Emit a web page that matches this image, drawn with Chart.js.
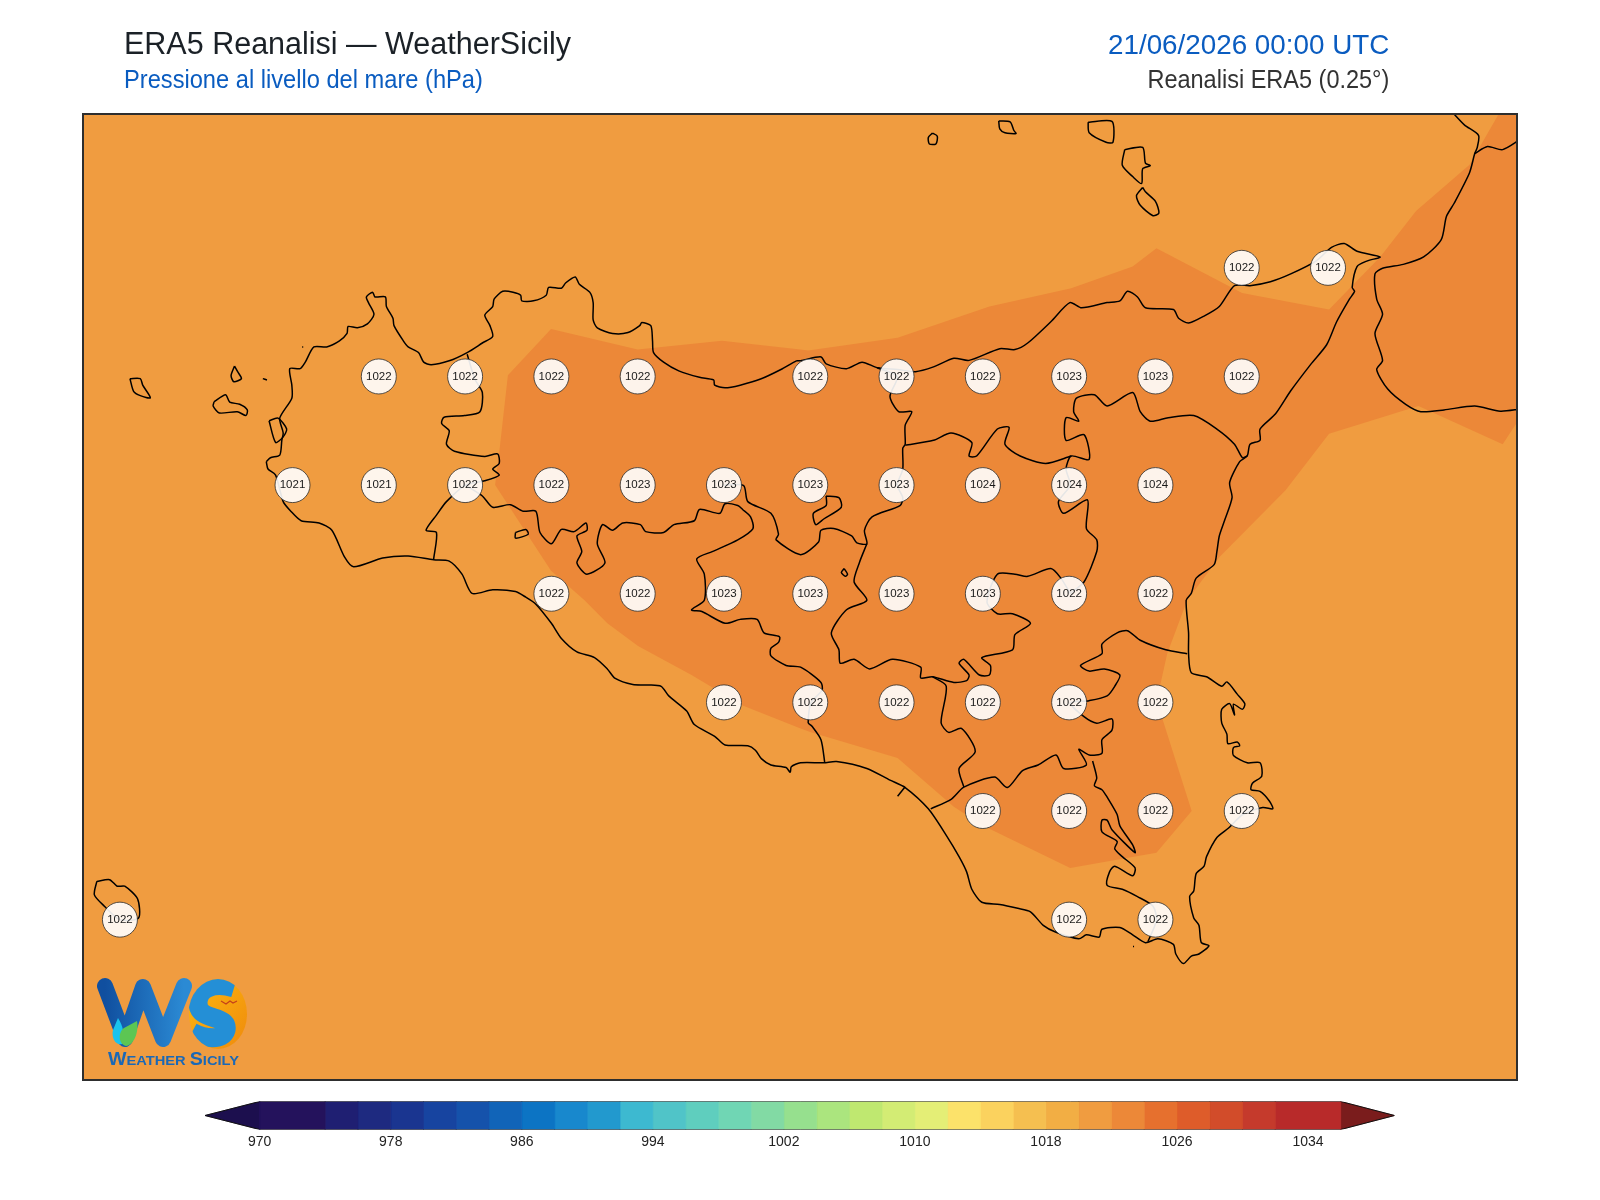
<!DOCTYPE html>
<html>
<head>
<meta charset="utf-8">
<title>ERA5 Reanalisi - WeatherSicily</title>
<script src="https://cdn.jsdelivr.net/npm/chart.js@4/dist/chart.umd.min.js"></script>
<style>
  html, body { margin: 0; padding: 0; background: #fff; }
  body { position: relative; width: 1600px; height: 1200px; overflow: hidden; font-family: "Liberation Sans", Arial, sans-serif; }
  canvas { position: absolute; left: 0; }
  #map-chart { top: 0; }
  #bar-chart { top: 1090px; }
  .label { position: absolute; white-space: nowrap; line-height: 1; }
  .left { transform-origin: left center; }
  .right { transform-origin: right center; }
  #logo { position: absolute; left: 0; top: 0; pointer-events: none; }
</style>
</head>
<body>
<canvas id="map-chart" width="1600" height="1200"></canvas>
<canvas id="bar-chart" width="1600" height="80"></canvas>

<div class="label left" style="left:124px; top:28px; font-size:31px; color:#1b2127; transform:scaleX(.984);">ERA5 Reanalisi — WeatherSicily</div>
<div class="label left" style="left:124px; top:67px; font-size:25px; color:#0a5cc0; transform:scaleX(.946);">Pressione al livello del mare (hPa)</div>
<div class="label right" style="right:211px; top:31px; font-size:28px; color:#0a5cc0; transform:scaleX(.993);">21/06/2026 00:00 UTC</div>
<div class="label right" style="right:211px; top:67px; font-size:25px; color:#333; transform:scaleX(.94);">Reanalisi ERA5 (0.25°)</div>

<!-- WeatherSicily logo -->
<svg id="logo" width="1600" height="1200" xmlns="http://www.w3.org/2000/svg">
  <defs>
    <linearGradient id="wBlue" x1="0" y1="0" x2="1" y2="0">
      <stop offset="0" stop-color="#104f9f"/>
      <stop offset="1" stop-color="#2b8ad4"/>
    </linearGradient>
    <linearGradient id="sun" x1="0" y1="0" x2="1" y2="1">
      <stop offset="0" stop-color="#fdb90f"/>
      <stop offset="1" stop-color="#ef8a0c"/>
    </linearGradient>
    <clipPath id="disc"><ellipse cx="218" cy="1014" rx="29.5" ry="35"/></clipPath>
  </defs>
  <polyline points="105,986 125,1039 143,987 163,1039 184,986" fill="none" stroke="url(#wBlue)" stroke-width="16" stroke-linejoin="round" stroke-linecap="round"/>
  <path d="M118 1018 C123 1026 125 1034 122 1044 C116 1046 111 1038 113 1030 Z" fill="#19c3ee"/>
  <path d="M137 1021 C139 1032 134 1045 126 1046 C118 1044 118 1032 124 1028 Z" fill="#5cc653"/>
  <ellipse cx="218" cy="1014" rx="29" ry="35" fill="url(#sun)"/>
  <g clip-path="url(#disc)">
    <path d="M234 988 C214 982 198 988 198 1003 C198 1022 229 1014 226 1030 C223 1041 205 1039 192 1032" fill="none" stroke="#248fd6" stroke-width="19"/>
  </g>
  <path d="M221 1001 l5 3 l4 -3 l3 2 l4 -2" fill="none" stroke="#c4401a" stroke-width="1.2"/>
  <text x="108" y="1065" font-family="Liberation Sans" font-weight="bold" font-size="13.5" fill="#1b68b6" textLength="131" lengthAdjust="spacingAndGlyphs"><tspan font-size="18">W</tspan>EATHER <tspan font-size="18">S</tspan>ICILY</text>
</svg>

<script>
// grid values (0.25 deg ERA5 points)
const gridLon = [15.25, 15.5,
  12.75, 13.0, 13.25, 13.5, 14.0, 14.25, 14.5, 14.75, 15.0, 15.25,
  12.5, 12.75, 13.0, 13.25, 13.5, 13.75, 14.0, 14.25, 14.5, 14.75, 15.0,
  13.25, 13.5, 13.75, 14.0, 14.25, 14.5, 14.75, 15.0,
  13.75, 14.0, 14.25, 14.5, 14.75, 15.0,
  14.5, 14.75, 15.0, 15.25,
  12.0, 14.75, 15.0];
const gridLat = [38.25, 38.25,
  38, 38, 38, 38, 38, 38, 38, 38, 38, 38,
  37.75, 37.75, 37.75, 37.75, 37.75, 37.75, 37.75, 37.75, 37.75, 37.75, 37.75,
  37.5, 37.5, 37.5, 37.5, 37.5, 37.5, 37.5, 37.5,
  37.25, 37.25, 37.25, 37.25, 37.25, 37.25,
  37, 37, 37, 37,
  36.75, 36.75, 36.75];
const gridHpa = [1022, 1022,
  1022, 1022, 1022, 1022, 1022, 1022, 1022, 1023, 1023, 1022,
  1021, 1021, 1022, 1022, 1023, 1023, 1023, 1023, 1024, 1024, 1024,
  1022, 1022, 1023, 1023, 1023, 1023, 1022, 1022,
  1022, 1022, 1022, 1022, 1022, 1022,
  1022, 1022, 1022, 1022,
  1022, 1022, 1022];

// colour bar
const barEdges = [970, 974, 976, 978, 980, 982, 984, 986, 988, 990, 992, 994, 996, 998, 1000, 1002, 1004, 1006, 1008, 1010, 1012, 1014, 1016, 1018, 1020, 1022, 1024, 1026, 1028, 1030, 1032, 1036];
const barColors = ['#24125c', '#1f1f72', '#1e2a80', '#1a3590', '#1744a0', '#1552ab', '#1164b8', '#0c74c4', '#1888cd', '#2299ce', '#3db9d0', '#50c4c8', '#5fcebe', '#70d6b4', '#82daa4', '#96e08e', '#abe57e', '#bfe870', '#d3ec74', '#e4ee76', '#fce26a', '#fbd25e', '#f5bf50', '#f2ae44', '#f09c40', '#ec8838', '#e6702e', '#de5c2a', '#d24c2a', '#c53a2c', '#b82a2a'];
const barTicks = [970, 978, 986, 994, 1002, 1010, 1018, 1026, 1034];
const underColor = '#1c0f4e';
const overColor = '#7a1c1c';

// pressure field: 1020-1022 everywhere, 1022-1024 inside this shape
const field1022 = [[13.249,38.109],[13.500,38.062],[13.744,38.082],[13.972,38.062],[13.994,38.060],[14.253,38.089],[14.519,38.161],[14.756,38.203],[14.934,38.253],[15.003,38.295],[15.251,38.192],[15.503,38.154],[15.651,38.275],[15.755,38.381],[15.910,38.487],[16.006,38.620],[16.100,38.620],[16.100,37.900],[16.050,37.897],[16.006,37.844],[15.762,37.932],[15.503,37.868],[15.377,37.738],[15.185,37.584],[15.092,37.485],[15.034,37.362],[15.012,37.283],[15.022,37.208],[15.105,37.000],[15.003,36.904],[14.753,36.869],[14.501,36.966],[14.416,37.010],[14.253,37.122],[14.002,37.181],[13.972,37.190],[13.804,37.243],[13.656,37.313],[13.501,37.380],[13.412,37.432],[13.346,37.485],[13.249,37.553],[13.087,37.750],[13.099,37.826],[13.124,38.003]];

// coast
const sicilyCoast = [[12.424,37.804],[12.436,37.813],[12.463,37.819],[12.469,37.853],[12.473,37.870],[12.463,37.904],[12.498,37.950],[12.498,37.980],[12.492,38.018],[12.522,38.018],[12.537,38.033],[12.562,38.068],[12.599,38.068],[12.636,38.082],[12.658,38.099],[12.661,38.115],[12.688,38.112],[12.717,38.121],[12.736,38.143],[12.720,38.170],[12.714,38.183],[12.732,38.194],[12.739,38.183],[12.769,38.183],[12.772,38.161],[12.791,38.134],[12.794,38.117],[12.821,38.082],[12.835,38.068],[12.865,38.055],[12.880,38.033],[12.902,38.027],[12.954,38.036],[13.006,38.055],[13.050,38.077],[13.080,38.092],[13.072,38.117],[13.057,38.141],[13.080,38.161],[13.084,38.178],[13.109,38.196],[13.139,38.194],[13.161,38.187],[13.164,38.174],[13.198,38.174],[13.235,38.187],[13.242,38.205],[13.279,38.203],[13.291,38.215],[13.319,38.229],[13.331,38.212],[13.361,38.194],[13.371,38.170],[13.371,38.130],[13.383,38.112],[13.427,38.099],[13.472,38.101],[13.506,38.117],[13.512,38.124],[13.538,38.117],[13.543,38.082],[13.546,38.055],[13.575,38.033],[13.619,38.013],[13.679,37.998],[13.720,37.992],[13.723,37.980],[13.753,37.974],[13.797,37.980],[13.856,37.994],[13.915,38.016],[13.960,38.036],[13.972,38.036],[14.031,38.045],[14.046,38.029],[14.105,38.018],[14.150,38.033],[14.194,38.020],[14.253,38.016],[14.305,38.011],[14.357,38.022],[14.416,38.042],[14.460,38.037],[14.549,38.064],[14.593,38.062],[14.630,38.077],[14.697,38.126],[14.752,38.170],[14.786,38.158],[14.860,38.170],[14.897,38.174],[14.919,38.196],[14.948,38.183],[14.971,38.158],[15.052,38.154],[15.067,38.134],[15.096,38.123],[15.141,38.139],[15.185,38.161],[15.229,38.209],[15.274,38.209],[15.333,38.218],[15.392,38.236],[15.466,38.266],[15.510,38.297],[15.547,38.306],[15.584,38.288],[15.651,38.275],[15.614,38.266],[15.584,38.253],[15.570,38.205],[15.577,38.196],[15.562,38.178],[15.525,38.126],[15.496,38.073],[15.451,38.029],[15.392,37.967],[15.348,37.914],[15.303,37.879],[15.303,37.853],[15.274,37.844],[15.266,37.817],[15.244,37.804],[15.215,37.756],[15.222,37.721],[15.200,37.668],[15.185,37.633],[15.178,37.597],[15.170,37.567],[15.118,37.536],[15.104,37.501],[15.089,37.485],[15.096,37.410],[15.096,37.362],[15.104,37.318],[15.148,37.309],[15.192,37.287],[15.207,37.297],[15.237,37.269],[15.259,37.247],[15.252,37.234],[15.226,37.246],[15.229,37.221],[15.215,37.247],[15.192,37.234],[15.192,37.203],[15.207,37.177],[15.210,37.155],[15.237,37.159],[15.244,37.150],[15.226,37.146],[15.226,37.128],[15.266,37.111],[15.303,37.111],[15.308,37.080],[15.281,37.064],[15.277,37.049],[15.303,37.045],[15.330,37.023],[15.340,37.005],[15.311,37.008],[15.253,36.992],[15.212,36.961],[15.178,36.939],[15.148,36.895],[15.141,36.873],[15.118,36.856],[15.111,36.816],[15.099,36.803],[15.111,36.754],[15.126,36.737],[15.133,36.697],[15.155,36.690],[15.126,36.671],[15.104,36.666],[15.081,36.649],[15.059,36.671],[15.052,36.693],[15.007,36.706],[14.971,36.697],[14.934,36.715],[14.897,36.732],[14.845,36.728],[14.837,36.710],[14.800,36.715],[14.778,36.706],[14.712,36.721],[14.675,36.737],[14.638,36.768],[14.601,36.776],[14.549,36.785],[14.497,36.790],[14.468,36.820],[14.453,36.860],[14.431,36.895],[14.394,36.944],[14.342,37.005],[14.275,37.054],[14.231,37.071],[14.164,37.098],[14.076,37.114],[14.039,37.111],[13.972,37.111],[13.945,37.102],[13.942,37.089],[13.930,37.100],[13.886,37.106],[13.859,37.120],[13.841,37.140],[13.819,37.150],[13.753,37.152],[13.723,37.172],[13.664,37.199],[13.642,37.230],[13.590,37.265],[13.568,37.287],[13.531,37.290],[13.486,37.291],[13.435,37.305],[13.412,37.327],[13.375,37.353],[13.324,37.366],[13.279,37.397],[13.250,37.432],[13.205,37.476],[13.176,37.492],[13.146,37.505],[13.080,37.509],[13.020,37.501],[12.991,37.545],[12.954,37.575],[12.909,37.578],[12.835,37.587],[12.761,37.582],[12.677,37.562],[12.651,37.584],[12.614,37.646],[12.577,37.663],[12.525,37.668],[12.495,37.690],[12.473,37.712],[12.451,37.773],[12.429,37.787],[12.424,37.804]];
const marettimo = [[12.029,37.995],[12.059,37.995],[12.066,37.980],[12.088,37.951],[12.059,37.956],[12.040,37.965],[12.029,37.995]];
const levanzo = [[12.332,38.024],[12.341,38.011],[12.352,37.995],[12.330,37.988],[12.322,38.002],[12.332,38.024]];
const favignana = [[12.273,37.942],[12.306,37.958],[12.318,37.941],[12.347,37.936],[12.369,37.923],[12.365,37.910],[12.340,37.919],[12.288,37.916],[12.270,37.932],[12.273,37.942]];
const formica = [[12.414,37.995],[12.426,37.992]];
const isolaLunga = [[12.432,37.898],[12.458,37.904],[12.483,37.879],[12.473,37.861],[12.451,37.848],[12.432,37.898]];
const islet1 = [[12.528,38.068],[12.531,38.068]];
const islet2 = [[14.935,36.688],[14.938,36.688]];
const alicudi = [[14.354,38.560],[14.368,38.553],[14.364,38.535],[14.345,38.535],[14.342,38.550],[14.354,38.560]];
const filicudi = [[14.546,38.588],[14.579,38.586],[14.590,38.566],[14.596,38.559],[14.564,38.561],[14.549,38.570],[14.546,38.588]];
const salina = [[14.805,38.585],[14.874,38.587],[14.877,38.539],[14.857,38.539],[14.808,38.561],[14.805,38.585]];
const lipari = [[14.911,38.522],[14.963,38.527],[14.971,38.491],[14.985,38.485],[14.963,38.478],[14.960,38.444],[14.934,38.460],[14.904,38.486],[14.911,38.522]];
const vulcano = [[14.963,38.435],[14.971,38.425],[15.000,38.403],[15.010,38.376],[14.993,38.370],[14.956,38.394],[14.945,38.416],[14.963,38.435]];
const pantelleria = [[11.933,36.838],[11.970,36.842],[11.992,36.827],[12.014,36.827],[12.051,36.798],[12.054,36.754],[12.000,36.750],[11.955,36.781],[11.926,36.807],[11.933,36.838]];
const calabriaCoast = [[15.858,38.610],[15.895,38.579],[15.936,38.555],[15.932,38.526],[15.925,38.513],[15.910,38.469],[15.865,38.398],[15.843,38.368],[15.828,38.315],[15.777,38.275],[15.718,38.258],[15.658,38.249],[15.636,38.236],[15.641,38.178],[15.658,38.143],[15.636,38.099],[15.658,38.037],[15.641,38.016],[15.673,37.971],[15.725,37.936],[15.769,37.919],[15.836,37.923],[15.925,37.932],[15.999,37.920],[16.058,37.925]];
const calabriaBorder = [[15.925,38.513],[15.962,38.529],[16.006,38.522],[16.058,38.546]];

// province borders
const borderTrapani = [[13.006,38.051],[13.028,37.994],[13.050,37.963],[13.043,37.919],[12.998,37.910],[12.939,37.906],[12.932,37.892],[12.954,37.875],[12.946,37.844],[12.969,37.828],[13.057,37.816],[13.094,37.822],[13.099,37.800],[13.080,37.787],[13.099,37.773],[13.057,37.760],[13.001,37.750],[12.946,37.712],[12.917,37.681],[12.887,37.646],[12.917,37.641],[12.909,37.580]];
const borderAgrigento = [[13.001,37.750],[13.050,37.725],[13.080,37.699],[13.131,37.705],[13.168,37.690],[13.205,37.690],[13.217,37.641],[13.250,37.615],[13.279,37.648],[13.316,37.643],[13.350,37.663],[13.353,37.646],[13.324,37.633],[13.338,37.597],[13.324,37.571],[13.353,37.545],[13.405,37.571],[13.383,37.615],[13.398,37.659],[13.427,37.646],[13.457,37.663],[13.508,37.659],[13.523,37.643],[13.575,37.641],[13.605,37.659],[13.664,37.668],[13.679,37.694],[13.738,37.685],[13.753,37.707],[13.790,37.703],[13.804,37.694],[13.827,37.677],[13.834,37.650],[13.790,37.624],[13.716,37.597],[13.671,37.580],[13.693,37.545],[13.693,37.485],[13.656,37.463],[13.686,37.459],[13.753,37.432],[13.797,37.441],[13.846,37.441],[13.866,37.410],[13.911,37.401],[13.908,37.388],[13.886,37.375],[13.886,37.357],[13.930,37.335],[13.972,37.331],[14.031,37.296],[14.034,37.278],[14.002,37.249],[13.994,37.203],[14.005,37.195],[14.031,37.164],[14.042,37.111]];
const borderPalermo = [[13.751,37.750],[13.807,37.749],[13.819,37.712],[13.886,37.685],[13.908,37.637],[13.901,37.624],[13.972,37.590],[14.024,37.619],[14.031,37.646],[14.068,37.650],[14.120,37.633],[14.135,37.617],[14.164,37.615],[14.157,37.646],[14.179,37.677],[14.260,37.703],[14.268,37.721],[14.252,37.750],[14.268,37.787],[14.268,37.835],[14.275,37.844],[14.275,37.888],[14.294,37.919],[14.256,37.919],[14.231,37.954],[14.252,38.000],[14.194,38.020]];
const borderEnnaSouth = [[14.164,37.615],[14.142,37.571],[14.127,37.527],[14.164,37.485],[14.105,37.463],[14.061,37.410],[14.083,37.371],[14.087,37.340],[14.127,37.349],[14.172,37.327],[14.238,37.349],[14.320,37.331],[14.320,37.306],[14.354,37.309],[14.416,37.296],[14.453,37.300],[14.460,37.313],[14.431,37.340],[14.445,37.349],[14.490,37.313],[14.519,37.313],[14.522,37.335],[14.497,37.353],[14.586,37.371],[14.593,37.406],[14.638,37.432],[14.586,37.454],[14.542,37.454],[14.512,37.481],[14.542,37.545],[14.593,37.545],[14.630,37.540],[14.697,37.558],[14.726,37.536],[14.753,37.501]];
const borderCatania = [[14.753,37.501],[14.793,37.527],[14.830,37.597],[14.830,37.624],[14.800,37.650],[14.803,37.716],[14.734,37.685],[14.719,37.712],[14.753,37.750],[14.741,37.787],[14.756,37.817],[14.808,37.809],[14.793,37.866],[14.741,37.853],[14.741,37.905],[14.778,37.897],[14.763,37.919],[14.771,37.950],[14.823,37.958],[14.860,37.932],[14.934,37.963],[14.956,37.919],[14.985,37.897],[15.037,37.905],[15.111,37.910],[15.178,37.879],[15.229,37.844],[15.252,37.813],[15.266,37.817]];
const borderEnnaNorth = [[14.756,37.817],[14.682,37.800],[14.608,37.817],[14.564,37.844],[14.576,37.883],[14.542,37.879],[14.482,37.817],[14.460,37.817],[14.468,37.848],[14.408,37.870],[14.357,37.853],[14.275,37.842]];
const borderRagusaNorth = [[15.092,37.362],[15.030,37.371],[14.956,37.393],[14.919,37.415],[14.889,37.410],[14.845,37.384],[14.845,37.362],[14.783,37.335],[14.808,37.322],[14.852,37.327],[14.897,37.313],[14.882,37.287],[14.860,37.265],[14.808,37.254],[14.753,37.249],[14.793,37.217],[14.830,37.202],[14.874,37.212],[14.874,37.186],[14.845,37.164],[14.845,37.133],[14.808,37.129],[14.778,37.142],[14.800,37.106],[14.734,37.098],[14.712,37.129],[14.660,37.106],[14.615,37.093],[14.571,37.054],[14.534,37.078],[14.445,37.055],[14.408,37.027],[14.349,37.005]];
const borderCaltanissetta = [[14.445,37.055],[14.431,37.098],[14.478,37.137],[14.438,37.190],[14.401,37.181],[14.379,37.203],[14.394,37.287],[14.354,37.309]];
const borderSiracusa = [[14.818,37.115],[14.830,37.076],[14.823,37.058],[14.845,37.049],[14.860,37.032],[14.889,36.992],[14.897,36.966],[14.934,36.922],[14.941,36.904],[14.874,36.957],[14.860,36.979],[14.845,36.979],[14.845,36.952],[14.889,36.930],[14.882,36.913],[14.904,36.895],[14.941,36.869],[14.934,36.851],[14.882,36.873],[14.867,36.860],[14.860,36.829],[14.904,36.820],[14.948,36.803],[14.993,36.781],[15.003,36.749],[14.978,36.699]];
const borderTick = [[14.275,37.056],[14.253,37.034]];
const lakeWest = [[13.146,37.641],[13.176,37.648],[13.183,37.637],[13.146,37.628],[13.146,37.641]];
const lakeEnna = [[14.098,37.558],[14.108,37.545],[14.102,37.540],[14.090,37.549],[14.098,37.558]];
const enclave = [[14.046,37.725],[14.083,37.721],[14.090,37.699],[14.039,37.672],[14.016,37.659],[14.009,37.685],[14.046,37.703],[14.046,37.725]];

const outlines = [sicilyCoast, marettimo, levanzo, favignana, formica, isolaLunga, islet1, islet2, alicudi, filicudi, salina, lipari, vulcano, pantelleria, calabriaCoast, calabriaBorder,
  borderTrapani, borderAgrigento, borderPalermo, borderEnnaSouth, borderCatania, borderEnnaNorth, borderRagusaNorth, borderCaltanissetta, borderSiracusa, borderTick, lakeWest, lakeEnna, enclave];

const toPoints = list => list.map(p => ({ x: p[0], y: p[1] }));

// background of the field and frame round the map
const mapFrame = {
  id: 'mapFrame',
  beforeDatasetsDraw(chart) {
    const a = chart.chartArea;
    chart.ctx.fillStyle = barColors[24];
    chart.ctx.fillRect(a.left, a.top, a.width, a.height);
  },
  afterDraw(chart) {
    const a = chart.chartArea;
    const ctx = chart.ctx;
    ctx.strokeStyle = '#2e2e2e';
    ctx.lineWidth = 2;
    ctx.strokeRect(a.left, a.top, a.width, a.height);
  }
};

// hPa value written on each circle
const gridLabels = {
  id: 'gridLabels',
  afterDatasetsDraw(chart) {
    const ctx = chart.ctx;
    const meta = chart.getDatasetMeta(0);
    ctx.font = '11.5px "Liberation Sans"';
    ctx.fillStyle = '#1a1a1a';
    ctx.textAlign = 'center';
    ctx.textBaseline = 'middle';
    meta.data.forEach((pt, i) => ctx.fillText(gridHpa[i], pt.x, pt.y));
  }
};

const mapDatasets = [{
  data: gridLon.map((lon, i) => ({ x: lon, y: gridLat[i] })),
  pointRadius: 17.5,
  pointBackgroundColor: 'rgba(255,255,255,0.9)',
  pointBorderColor: '#2b2b2b',
  pointBorderWidth: 0.8,
  showLine: false,
  clip: false
}];
outlines.forEach(list => mapDatasets.push({
  data: toPoints(list),
  showLine: true,
  tension: 0.25,
  pointRadius: 0,
  borderColor: '#000',
  borderWidth: 1.5,
  fill: false
}));
mapDatasets.push({
  data: toPoints(field1022),
  showLine: true,
  pointRadius: 0,
  borderWidth: 0,
  backgroundColor: barColors[25],
  fill: 'shape'
});

new Chart(document.getElementById('map-chart'), {
  type: 'scatter',
  data: { datasets: mapDatasets },
  options: {
    responsive: false,
    animation: false,
    layout: { padding: { left: 83, top: 114, right: 83, bottom: 120 } },
    plugins: { legend: { display: false }, title: { display: false }, tooltip: { enabled: false } },
    scales: {
      x: { type: 'linear', display: false, min: 11.893, max: 16.0475 },
      y: { type: 'linear', display: false, min: 36.381, max: 38.604 }
    }
  },
  plugins: [mapFrame, gridLabels]
});

// colour bar: one closed box per band, two end arrows, outline on top
const box = (points, color) => ({
  data: points,
  showLine: true,
  pointRadius: 0,
  borderColor: color,
  borderWidth: 0.6,
  backgroundColor: color,
  fill: 'shape'
});
const barDatasets = barColors.map((c, i) => box([
  { x: barEdges[i], y: 0 }, { x: barEdges[i + 1], y: 0 }, { x: barEdges[i + 1], y: 1 }, { x: barEdges[i], y: 1 }, { x: barEdges[i], y: 0 }
], c));
barDatasets.push(box([{ x: 970, y: 0 }, { x: 966.66, y: 0.5 }, { x: 970, y: 1 }, { x: 970, y: 0 }], underColor));
barDatasets.push(box([{ x: 1036, y: 0 }, { x: 1039.28, y: 0.5 }, { x: 1036, y: 1 }, { x: 1036, y: 0 }], overColor));
barDatasets.unshift({
  data: [{ x: 966.66, y: 0.5 }, { x: 970, y: 1 }, { x: 1036, y: 1 }, { x: 1039.28, y: 0.5 }, { x: 1036, y: 0 }, { x: 970, y: 0 }, { x: 966.66, y: 0.5 }],
  showLine: true, pointRadius: 0, borderColor: '#111', borderWidth: 1, fill: false
});

new Chart(document.getElementById('bar-chart'), {
  type: 'scatter',
  data: { datasets: barDatasets },
  options: {
    responsive: false,
    animation: false,
    layout: { padding: { left: 205, top: 11.5, right: 205.5, bottom: 15.7 } },
    plugins: { legend: { display: false }, title: { display: false }, tooltip: { enabled: false } },
    scales: {
      x: {
        type: 'linear',
        min: 966.66,
        max: 1039.28,
        grid: { display: false, drawTicks: false },
        border: { display: false },
        afterBuildTicks: axis => { axis.ticks = barTicks.map(v => ({ value: v })); },
        ticks: {
          autoSkip: false,
          maxRotation: 0,
          padding: 4,
          color: '#222',
          font: { family: 'Liberation Sans', size: 14 },
          callback: v => String(v)
        }
      },
      y: { type: 'linear', display: false, min: 0, max: 1 }
    }
  }
});
</script>
</body>
</html>
